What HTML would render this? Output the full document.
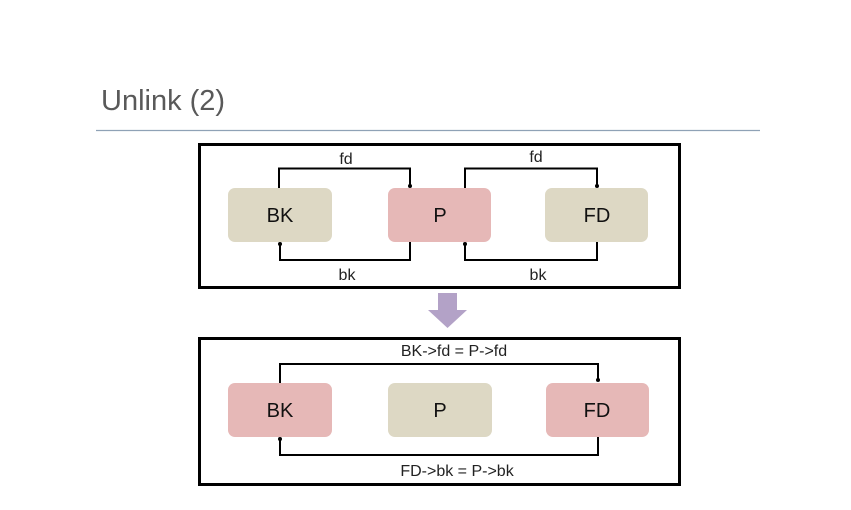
<!DOCTYPE html>
<html><head><meta charset="utf-8"><style>
html,body{margin:0;padding:0;background:#fff;}
svg{display:block;}
text{font-family:"Liberation Sans","DejaVu Sans",sans-serif;}
</style></head><body>
<svg width="851" height="510" viewBox="0 0 851 510" xmlns="http://www.w3.org/2000/svg">
<text x="101" y="110" font-size="29" fill="#595959">Unlink (2)</text>
<line x1="96" y1="130.5" x2="760" y2="130.5" stroke="#8fa2b6" stroke-width="1.2"/>
<!-- top box -->
<rect x="199.5" y="144.5" width="480" height="143" fill="none" stroke="#000" stroke-width="3"/>
<rect x="228" y="188" width="104" height="54" rx="7" fill="#ddd8c4"/>
<rect x="388" y="188" width="103" height="54" rx="7" fill="#e6b8b7"/>
<rect x="545" y="188" width="103" height="54" rx="7" fill="#ddd8c4"/>
<g font-size="20" fill="#111" text-anchor="middle">
<text x="280" y="222">BK</text><text x="440" y="222">P</text><text x="597" y="222">FD</text>
</g>
<g fill="none" stroke="#000" stroke-width="2">
<polyline points="279,188 279,168.5 410,168.5 410,186"/>
<polyline points="465,188 465,168.5 597,168.5 597,186"/>
<polyline points="410,242 410,260 280,260 280,244"/>
<polyline points="597,242 597,260 465,260 465,244"/>
</g>
<g fill="#000"><circle cx="410" cy="186" r="2"/><circle cx="597" cy="186" r="2"/><circle cx="280" cy="244" r="2"/><circle cx="465" cy="244" r="2"/></g>
<g font-size="16" fill="#222" text-anchor="middle">
<text x="346" y="164">fd</text><text x="536" y="162">fd</text>
<text x="347" y="280">bk</text><text x="538" y="280">bk</text>
</g>
<!-- arrow -->
<polygon points="438,293 457,293 457,310 467,310 447.5,328 428,310 438,310" fill="#b3a2c7"/>
<!-- bottom box -->
<rect x="199.5" y="338.5" width="480" height="146" fill="none" stroke="#000" stroke-width="3"/>
<rect x="228" y="383" width="104" height="54" rx="7" fill="#e6b8b7"/>
<rect x="388" y="383" width="104" height="54" rx="7" fill="#ddd8c4"/>
<rect x="546" y="383" width="103" height="54" rx="7" fill="#e6b8b7"/>
<g font-size="20" fill="#111" text-anchor="middle">
<text x="280" y="417">BK</text><text x="440" y="417">P</text><text x="597" y="417">FD</text>
</g>
<g fill="none" stroke="#000" stroke-width="2">
<polyline points="280,383 280,364 598,364 598,381"/>
<polyline points="598,437 598,455 280,455 280,439"/>
</g>
<g fill="#000"><circle cx="598" cy="380" r="2"/><circle cx="280" cy="439" r="2"/></g>
<g font-size="16" fill="#222" text-anchor="middle">
<text x="454" y="356">BK-&gt;fd = P-&gt;fd</text>
<text x="457" y="476">FD-&gt;bk = P-&gt;bk</text>
</g>
</svg>
</body></html>
